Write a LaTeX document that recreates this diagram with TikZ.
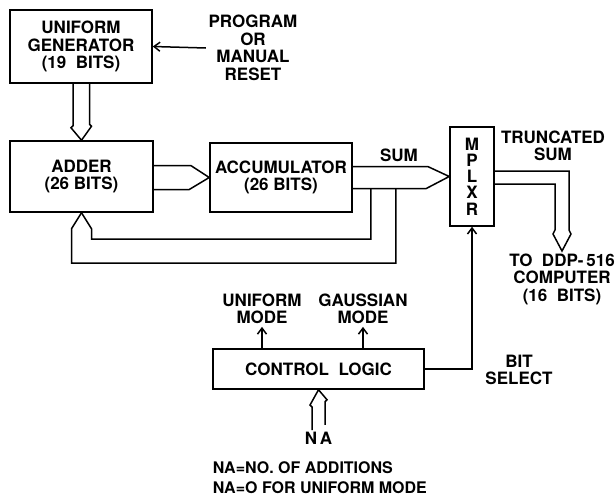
\documentclass[tikz,border=0pt]{standalone}
\usepackage{fontspec}
\setmainfont{TeX Gyre Heros}
\usetikzlibrary{calc,arrows.meta}

\begin{document}
\begin{tikzpicture}[
x=1pt, y=-1pt,
line width=1.5pt,
>={Straight Barb[length=6pt,width=9pt]},
every node/.style={font=\fontsize{17}{17.5}\selectfont\bfseries, align=center},
box/.style={rectangle, draw, inner sep=0pt},
lbl/.style={inner sep=2pt}
]
\useasboundingbox (0,0) rectangle (616,501);

\node[box, minimum width=142pt, minimum height=73pt] (gen) at (81,46.5) {UNIFORM\\GENERATOR\\(19\ \ BITS)};
\node[box, minimum width=143pt, minimum height=71pt] (adder) at (81.5,176.5) {ADDER\\(26 BITS)};
\node[box, minimum width=142pt, minimum height=69pt] (acc) at (281,177.5) {ACCUMULATOR\\(26 BITS)};
\node[box, minimum width=44pt, minimum height=99pt, font=\fontsize{17}{16.2}\selectfont\bfseries] (mux) at (472,176.5) {M\\P\\L\\X\\R};
\node[box, minimum width=211pt, minimum height=40pt] (ctrl) at (318.5,369) {CONTROL\ \ LOGIC};

\node[lbl] (reset) at (253,48) {PROGRAM\\OR\\MANUAL\\RESET};
\node[lbl] (sum) at (399,155) {SUM};
\node[lbl] (trunc) at (553,146) {TRUNCATED\\SUM};
\node[lbl, anchor=north] (todpp) at (562,251) {TO\ \ DDP-\,516\\COMPUTER\\(16\ \ BITS)};
\node[lbl] (umode) at (262,309) {UNIFORM\\MODE};
\node[lbl] (gmode) at (363,309) {GAUSSIAN\\MODE};
\node[lbl] (bitsel) at (519,370) {BIT\\SELECT};
\node[lbl, inner sep=1pt] (na) at (318.5,438) {N\,A};
\node[lbl, align=left, anchor=west, font=\fontsize{16}{20}\selectfont\bfseries] (note) at (210,478) {NA=NO.\ OF ADDITIONS\\NA=O FOR UNIFORM MODE};

\draw[->] (reset.west) -- (gen.east);

\draw (gen.south) ++(-8,0) -- ++(0,42) -- ++(-2,2) -- (adder.north) -- ++(10,-14) -- ++(-2,-2) -- ++(0,-42);
\draw ($(adder.east)+(0,-11)$) -- ++(37,0) -- (acc.west) -- ++(-20,12) -- ++(-37,0);
\draw ($(acc.east)+(0,-11)$) -- ++(75,0) -- (mux.west) -- ++(-23,12) -- ++(-75,0);

\coordinate (fb1) at ($(acc.east)+(18,11)$);
\coordinate (fb2) at ($(acc.east)+(43,11)$);
\draw (fb1) -- ++(0,50.5) -| ($(adder.south)+(10,16)$) -- (adder.south);
\draw (fb2) -- ++(0,74.5) -| ($(adder.south)+(-10,16)$) -- (adder.south);

\draw ($(mux.east)+(0,-5.5)$) -| ($(todpp.north)+(7,-21)$) -- ++(2,4) -- (todpp.north) -- ++(-9,-17) -- ++(2,-4) |- ($(mux.east)+(0,7.5)$);

\draw[->] (ctrl.east) -| (mux.south);
\draw[->] (ctrl.north -| umode.south) -- (umode.south);
\draw[->] (ctrl.north -| gmode.south) -- (gmode.south);

\draw ($(na.north)+(-6.5,0)$) -- ++(0,-23) -- ++(-2,-2) -- (ctrl.south) -- ++(8.5,10) -- ++(-2,2) -- ++(0,23);

\end{tikzpicture}
\end{document}
